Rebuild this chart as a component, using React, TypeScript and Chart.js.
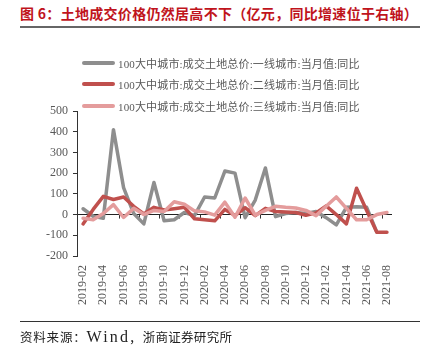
import React, { useEffect, useRef } from 'react';
import { Chart, registerables } from 'chart.js';

Chart.register(...registerables);

const months = [
  '2019-02', '2019-03', '2019-04', '2019-05', '2019-06', '2019-07', '2019-08', '2019-09',
  '2019-10', '2019-11', '2019-12', '2020-01', '2020-02', '2020-03', '2020-04', '2020-05',
  '2020-06', '2020-07', '2020-08', '2020-09', '2020-10', '2020-11', '2020-12', '2021-01',
  '2021-02', '2021-03', '2021-04', '2021-05', '2021-06', '2021-07', '2021-08',
];

const tier1 = [28, -8, -18, 410, 130, 5, -45, 155, -30, -25, 10, -5, 85, 80, 210, 200, -15, 70, 225, -10, 5, 10, 5, 15, -15, -50, 35, 38, 35, -85, null];
const tier2 = [-45, 25, 88, 73, 85, 40, 3, 35, 22, 28, 35, -20, -25, -30, 25, -5, 33, -5, 30, 15, 12, 10, -3, 8, 42, 0, -45, 127, 20, -85, -85];
const tier3 = [-18, -25, 5, 48, -14, 30, 0, 20, 15, 62, 50, 18, 13, -3, 60, -13, 80, -3, 20, 40, 35, 32, 20, -5, 40, 85, 30, -25, -25, 0, 10];

const seriesNames = [
  '100大中城市:成交土地总价:一线城市:当月值:同比',
  '100大中城市:成交土地总价:二线城市:当月值:同比',
  '100大中城市:成交土地总价:三线城市:当月值:同比',
];
const seriesColors = ['#8e8e8e', '#c0504d', '#e49c9c'];

const yMin = -200;
const yMax = 500;
const yStep = 100;

const titleText = '图 6：土地成交价格仍然居高不下（亿元，同比增速位于右轴）';
const sourceParts = ['资料来源：', 'Wind, ', '浙商证券研究所'];

const zeroTicksPlugin = {
  id: 'zeroTicks',
  beforeDatasetsDraw(chart: any) {
    const x = chart.scales.x;
    const y = chart.scales.y;
    const y0 = y.getPixelForValue(0);
    const half = (x.getPixelForValue(1) - x.getPixelForValue(0)) / 2;
    const ctx = chart.ctx;
    ctx.save();
    ctx.strokeStyle = '#333';
    ctx.lineWidth = 1;
    for (let k = 2; k < months.length; k += 2) {
      const px = Math.round(x.getPixelForValue(k) - half) + 0.5;
      ctx.beginPath();
      ctx.moveTo(px, y0);
      ctx.lineTo(px, y0 + 4);
      ctx.stroke();
    }
    ctx.restore();
  },
};

export default function App() {
  const ref = useRef<HTMLCanvasElement | null>(null);

  useEffect(() => {
    if (!ref.current) return;
    const mk = (i: number, data: (number | null)[], order: number) => ({
      label: seriesNames[i],
      data,
      borderColor: seriesColors[i],
      backgroundColor: seriesColors[i],
      borderWidth: 3.5,
      pointRadius: 0,
      tension: 0,
      spanGaps: false,
      borderJoinStyle: 'round' as const,
      borderCapStyle: 'round' as const,
      order,
    });
    const chart = new Chart(ref.current, {
      type: 'line',
      data: {
        labels: months,
        datasets: [mk(0, tier1, 3), mk(1, tier2, 2), mk(2, tier3, 1)],
      },
      options: {
        animation: false,
        responsive: false,
        devicePixelRatio: 1,
        layout: { padding: { top: 111, bottom: 43, left: 41, right: 35 } },
        plugins: {
          legend: { display: false },
          tooltip: { enabled: false },
          title: { display: false },
        },
        scales: {
          x: {
            offset: true,
            grid: { display: false, drawTicks: false },
            border: { display: false },
            ticks: {
              autoSkip: false,
              maxRotation: 90,
              minRotation: 90,
              padding: 9,
              color: '#595959',
              font: { family: "'Liberation Serif', serif", size: 12 },
              callback: (_v: any, i: number) => (i % 2 === 0 ? months[i] : ''),
            },
          },
          y: {
            min: yMin,
            max: yMax,
            ticks: {
              stepSize: yStep,
              padding: 5,
              color: '#595959',
              font: { family: "'Liberation Serif', serif", size: 12 },
            },
            grid: {
              color: (c: any) => (c.tick && c.tick.value === 0 ? '#222' : 'rgba(0,0,0,0)'),
              tickColor: '#333',
              tickLength: 5,
              lineWidth: 1,
            },
            border: { display: true, color: '#333', width: 1 },
          },
        },
      },
      plugins: [zeroTicksPlugin],
    });
    return () => chart.destroy();
  }, []);

  const cjk = "'Liberation Serif', 'Noto Sans CJK SC', serif";

  return (
    <div style={{ position: 'absolute', left: 0, top: 0, width: 427, height: 357, background: '#fff', overflow: 'hidden' }}>
      <div
        style={{
          position: 'absolute', left: 20, top: 5, whiteSpace: 'pre',
          fontFamily: "'Noto Sans CJK SC', sans-serif", fontWeight: 700, fontSize: 14, lineHeight: '16px',
          color: '#c0141c', letterSpacing: '0.3px',
        }}
      >
        {titleText}
      </div>
      <div style={{ position: 'absolute', left: 20, top: 26, width: 400, height: 2, background: '#666' }} />
      <canvas ref={ref} width={427} height={357} style={{ position: 'absolute', left: 0, top: 0, width: 427, height: 357 }} />
      {seriesNames.map((n, i) => (
        <div key={n} style={{ position: 'absolute', left: 82, top: 62.7 + i * 21.5 - 8, height: 16, display: 'flex', alignItems: 'center', whiteSpace: 'nowrap' }}>
          <div style={{ width: 33, height: 4, borderRadius: 2, background: seriesColors[i] }} />
          <span style={{ marginLeft: 3, fontFamily: cjk, fontSize: 11, letterSpacing: '0.15px', color: '#595959' }}>{n}</span>
        </div>
      ))}
      <div style={{ position: 'absolute', left: 20, top: 321, width: 400, height: 1, background: '#333' }} />
      <div style={{ position: 'absolute', left: 20, top: 329, whiteSpace: 'pre', lineHeight: '16px', color: '#222' }}>
        <span style={{ fontFamily: "'Noto Sans CJK SC', serif", fontSize: 12.5, letterSpacing: '0.8px' }}>{sourceParts[0]}</span>
        <span style={{ fontFamily: "'Liberation Serif', serif", fontSize: 16, letterSpacing: '2.2px' }}>{sourceParts[1]}</span>
        <span style={{ fontFamily: "'Noto Sans CJK SC', serif", fontSize: 12.5, letterSpacing: '0.3px' }}>{sourceParts[2]}</span>
      </div>
    </div>
  );
}
